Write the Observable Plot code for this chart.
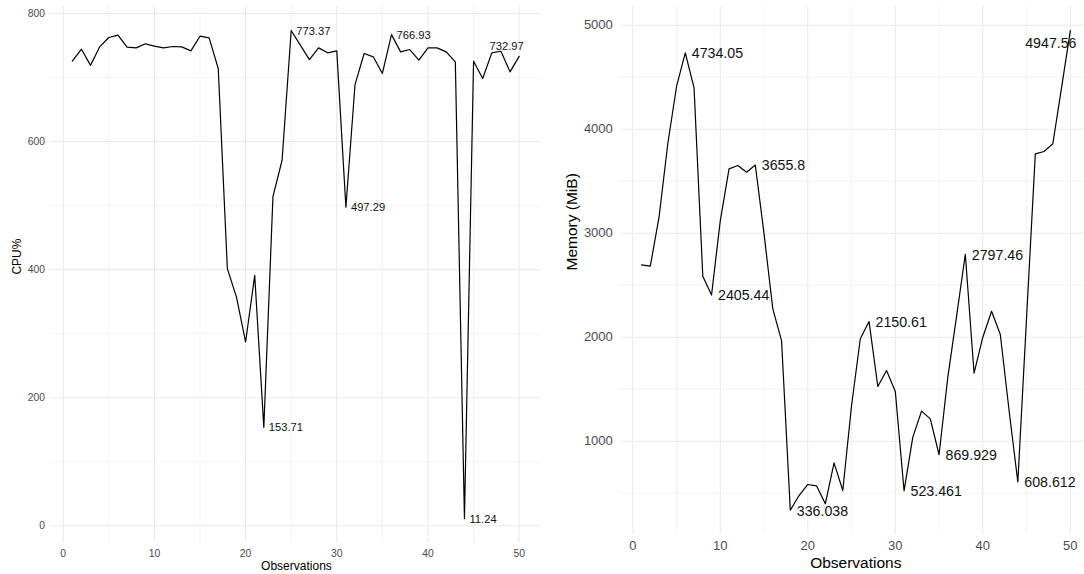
<!DOCTYPE html>
<html><head><meta charset="utf-8">
<script src="https://cdn.jsdelivr.net/npm/d3@7"></script>
<script src="https://cdn.jsdelivr.net/npm/@observablehq/plot@0.6"></script>
<style>
body{margin:0;background:#fff;}
#wrap{display:flex;width:1084px;height:574px;overflow:hidden;}
#wrap svg{display:block;flex:none;}
</style>
</head><body><div id="wrap"></div>
<script>
const observations = d3.range(1, 51);
const cpu = [725.5, 744.2, 719, 747.9, 762.5, 766.1, 747.3, 746.3, 752.6, 748.9,
  746.3, 748.4, 747.9, 741.6, 764.5, 761.9, 714, 401.5, 357, 287,
  391, 153.71, 514, 570.8, 773.37, 750.5, 728, 746.3, 738.5, 741.6,
  497.29, 689, 737.5, 732.3, 706.3, 766.93, 740, 743.7, 727, 746.3,
  746.3, 740, 724.4, 11.24, 725.5, 698.4, 738.5, 741, 708.8, 732.97];
const mem = [2696, 2683, 3154, 3860, 4411, 4734.05, 4398, 2587, 2405.44, 3122,
  3619, 3651, 3587, 3655.8, 2994, 2273, 1968, 336.038, 478, 584,
  571, 398, 792, 526, 1343, 1985, 2150.61, 1526, 1680, 1478,
  523.461, 1039, 1289, 1215, 869.929, 1616, 2200, 2797.46, 1654, 2000,
  2250, 2026, 1295, 608.612, 2190, 3763, 3786, 3860, 4400, 4947.56];
const cpuLabelObs = [22, 25, 31, 36, 44];
const cpuEdgeLabelObs = [50];
const memLabelObs = [6, 9, 14, 18, 27, 31, 35, 38, 44];
const memEdgeLabelObs = [50];
const xMajor = [0, 10, 20, 30, 40, 50];
const xMinor = [5, 15, 25, 35, 45];
const cpuMajor = [0, 200, 400, 600, 800];
const cpuMinor = [100, 300, 500, 700];
const memMajor = [1000, 2000, 3000, 4000, 5000];
const memMinor = [500, 1500, 2500, 3500, 4500];

const FONT = "'Liberation Sans', Arial, Helvetica, sans-serif";
const GRID = "#EBEBEB";
const cpuRows = observations.map((o, i) => ({obs: o, value: cpu[i]}));
const memRows = observations.map((o, i) => ({obs: o, value: mem[i]}));

function panel(rows, cfg) {
  const lab = rows.filter(d => cfg.labels.includes(d.obs));
  const edge = rows.filter(d => cfg.edge.includes(d.obs));
  return Plot.plot({
    width: 542, height: 574,
    marginLeft: cfg.ml, marginRight: cfg.mr, marginTop: cfg.mt, marginBottom: cfg.mb,
    x: {domain: cfg.xd},
    y: {domain: cfg.yd},
    style: {fontFamily: FONT, background: "white", color: "#4D4D4D"},
    marks: [
      Plot.ruleX(xMinor, {stroke: GRID, strokeWidth: 0.6}),
      Plot.ruleY(cfg.yMinor, {stroke: GRID, strokeWidth: 0.6}),
      Plot.ruleX(xMajor, {stroke: GRID, strokeWidth: 1.1}),
      Plot.ruleY(cfg.yMajor, {stroke: GRID, strokeWidth: 1.1}),
      Plot.axisX({ticks: xMajor, tickFormat: d => String(d), tickSize: 0, tickPadding: cfg.xpad, fontSize: cfg.tick, fill: "#4D4D4D", label: null}),
      Plot.axisY({ticks: cfg.yMajor, tickFormat: d => String(d), tickSize: 0, tickPadding: cfg.ypad, fontSize: cfg.tick, fill: "#4D4D4D", label: null}),
      Plot.line(rows, {x: "obs", y: "value", stroke: "black", strokeWidth: 1.2}),
      Plot.text(lab, {x: "obs", y: "value", text: d => String(d.value), textAnchor: "start", dx: cfg.ldx, dy: cfg.ldy, fontSize: cfg.lab, fill: "#111"}),
      Plot.text(edge, {x: "obs", y: "value", text: d => String(d.value), textAnchor: "end", dx: cfg.edx, dy: cfg.edy, fontSize: cfg.lab, fill: "#111"}),
      Plot.text([cfg.xTitle], {text: d => d, frameAnchor: "bottom", lineAnchor: "middle", dx: cfg.xtdx, dy: cfg.xtdy, fontSize: cfg.title, fill: "black"}),
      Plot.text([cfg.yTitle], {text: d => d, frameAnchor: "left", lineAnchor: "middle", rotate: -90, dx: cfg.ytdx, fontSize: cfg.title, fill: "black"})
    ]
  });
}

const left = panel(cpuRows, {
  ml: 49.5, mr: 1, mt: 5.6, mb: 31.5,
  xd: [-1.45, 52.45], yd: [-26.9, 811.5],
  yMajor: cpuMajor, yMinor: cpuMinor,
  xpad: 6.5, ypad: 5, tick: 10.4,
  labels: cpuLabelObs, edge: cpuEdgeLabelObs, lab: 11.2,
  ldx: 5, ldy: 0.5, edx: 4.6, edy: -9.5,
  xTitle: "Observations", yTitle: "CPU%", title: 12,
  xtdx: 0.7, xtdy: 23.5, ytdx: -32.8
});
const right = panel(memRows, {
  ml: 77.6, mr: 0, mt: 6.2, mb: 40.2,
  xd: [-1.45, 51.62], yd: [105, 5178],
  yMajor: memMajor, yMinor: memMinor,
  xpad: 6.3, ypad: 7.3, tick: 13,
  labels: memLabelObs, edge: memEdgeLabelObs, lab: 14.2,
  ldx: 6.5, ldy: 0.8, edx: 6.2, edy: 12.5,
  xTitle: "Observations", yTitle: "Memory (MiB)", title: 15.5,
  xtdx: 3.5, xtdy: 29.2, ytdx: -47.6
});
document.getElementById("wrap").append(left, right);
</script>
</body></html>
